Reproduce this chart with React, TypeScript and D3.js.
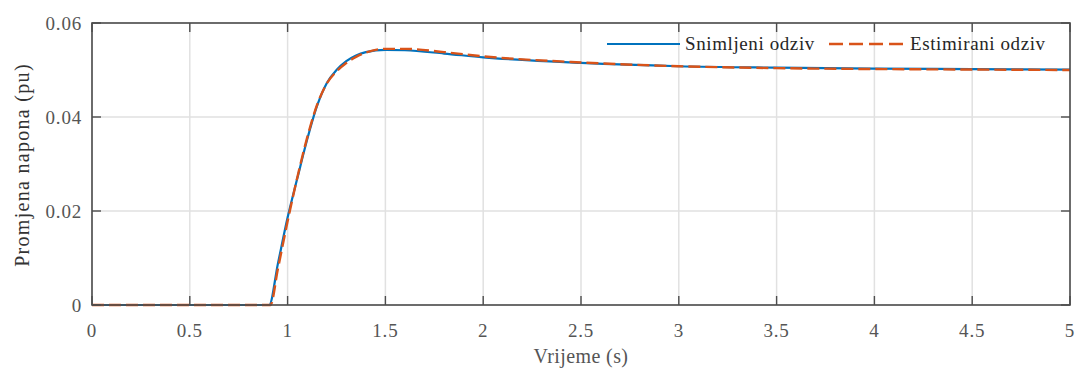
import React from "react";
import * as d3 from "d3";

const timeMeasured = [0, 0.906, 0.95, 1.0, 1.05, 1.1, 1.15, 1.2, 1.25, 1.3, 1.35, 1.4, 1.5, 1.6, 1.8, 2.0, 2.5, 3.0, 3.5, 4.0, 4.5, 5.0];
const valueMeasured = [0, 0, 0.0087, 0.0186, 0.027, 0.0352, 0.0423, 0.0472, 0.0500, 0.0519, 0.0531, 0.0538, 0.0543, 0.0542, 0.0535, 0.0527, 0.0515, 0.0508, 0.0505, 0.0503, 0.0502, 0.0501];

const timeEstimated = [0, 0.912, 0.95, 1.0, 1.05, 1.1, 1.15, 1.2, 1.25, 1.3, 1.35, 1.4, 1.5, 1.6, 1.8, 2.0, 2.5, 3.0, 3.5, 4.0, 4.5, 5.0];
const valueEstimated = [0, 0, 0.0076, 0.0178, 0.0272, 0.0356, 0.0425, 0.0471, 0.0497, 0.0515, 0.0528, 0.0537, 0.0545, 0.0545, 0.0538, 0.0529, 0.0516, 0.0508, 0.0504, 0.0502, 0.0501, 0.05];

const xTicks = [0, 0.5, 1, 1.5, 2, 2.5, 3, 3.5, 4, 4.5, 5];
const xTickLabels = ["0", "0.5", "1", "1.5", "2", "2.5", "3", "3.5", "4", "4.5", "5"];
const yTicks = [0, 0.02, 0.04, 0.06];
const yTickLabels = ["0", "0.02", "0.04", "0.06"];

const seriesNames = ["Snimljeni odziv", "Estimirani odziv"];
const xLabel = "Vrijeme (s)";
const yLabel = "Promjena napona (pu)";

const W = 1078;
const H = 368;
const left = 92;
const right = 1070;
const top = 23;
const bottom = 305;

export default function App() {
  const x = d3.scaleLinear().domain([0, 5]).range([left, right]);
  const y = d3.scaleLinear().domain([0, 0.06]).range([bottom, top]);

  const line = d3
    .line<[number, number]>()
    .x((d) => x(d[0]))
    .y((d) => y(d[1]))
    .curve(d3.curveMonotoneX);

  const measured = line(timeMeasured.map((t, i) => [t, valueMeasured[i]]) as [number, number][]) || "";
  const estimated = line(timeEstimated.map((t, i) => [t, valueEstimated[i]]) as [number, number][]) || "";

  const font = "Liberation Serif, serif";
  const axisColor = "#4d4d4d";
  const gridColor = "#e1e1e1";
  const tickLen = 9;

  return (
    <svg
      width={W}
      height={H}
      style={{ position: "absolute", left: 0, top: 0, background: "#fff", fontFamily: font }}
    >
      <rect x={left} y={top} width={right - left} height={bottom - top} fill="#fff" />
      {xTicks.map((t, i) => (
        <line key={"gx" + i} x1={x(t)} x2={x(t)} y1={top} y2={bottom} stroke={gridColor} strokeWidth={1.5} />
      ))}
      {yTicks.map((t, i) => (
        <line key={"gy" + i} x1={left} x2={right} y1={y(t)} y2={y(t)} stroke={gridColor} strokeWidth={1.5} />
      ))}
      <path d={measured} fill="none" stroke="#0072BD" strokeWidth={2.2} />
      <path d={estimated} fill="none" stroke="#D95319" strokeWidth={2.4} strokeDasharray="12 5" />
      <rect x={left} y={top} width={right - left} height={bottom - top} fill="none" stroke={axisColor} strokeWidth={1.6} />
      {xTicks.map((t, i) => (
        <g key={"tx" + i}>
          <line x1={x(t)} x2={x(t)} y1={bottom} y2={bottom - tickLen} stroke={axisColor} strokeWidth={1.4} />
          <line x1={x(t)} x2={x(t)} y1={top} y2={top + tickLen} stroke={axisColor} strokeWidth={1.4} />
          <text x={x(t)} y={337} textAnchor="middle" fontSize={19} fill="#555" letterSpacing={0.8}>
            {xTickLabels[i]}
          </text>
        </g>
      ))}
      {yTicks.map((t, i) => (
        <g key={"ty" + i}>
          <line x1={left} x2={left + tickLen} y1={y(t)} y2={y(t)} stroke={axisColor} strokeWidth={1.4} />
          <line x1={right} x2={right - tickLen} y1={y(t)} y2={y(t)} stroke={axisColor} strokeWidth={1.4} />
          <text x={82} y={y(t)} dy="0.35em" textAnchor="end" fontSize={19} fill="#555" letterSpacing={0.8}>
            {yTickLabels[i]}
          </text>
        </g>
      ))}
      <text x={(left + right) / 2} y={363} textAnchor="middle" fontSize={20} fill="#555" letterSpacing={0.4}>
        {xLabel}
      </text>
      <text
        transform={`translate(29, 165) rotate(-90)`}
        textAnchor="middle"
        fontSize={20}
        fill="#333"
        letterSpacing={1.3}
      >
        {yLabel}
      </text>
      <line x1={607} x2={680} y1={44} y2={44} stroke="#0072BD" strokeWidth={2.2} />
      <text x={685} y={44} dy="0.33em" fontSize={19} fill="#262626" letterSpacing={0.6}>
        {seriesNames[0]}
      </text>
      <line x1={829} x2={905} y1={44} y2={44} stroke="#D95319" strokeWidth={2.4} strokeDasharray="14 6" />
      <text x={910} y={44} dy="0.33em" fontSize={19} fill="#262626" letterSpacing={0.6}>
        {seriesNames[1]}
      </text>
    </svg>
  );
}
